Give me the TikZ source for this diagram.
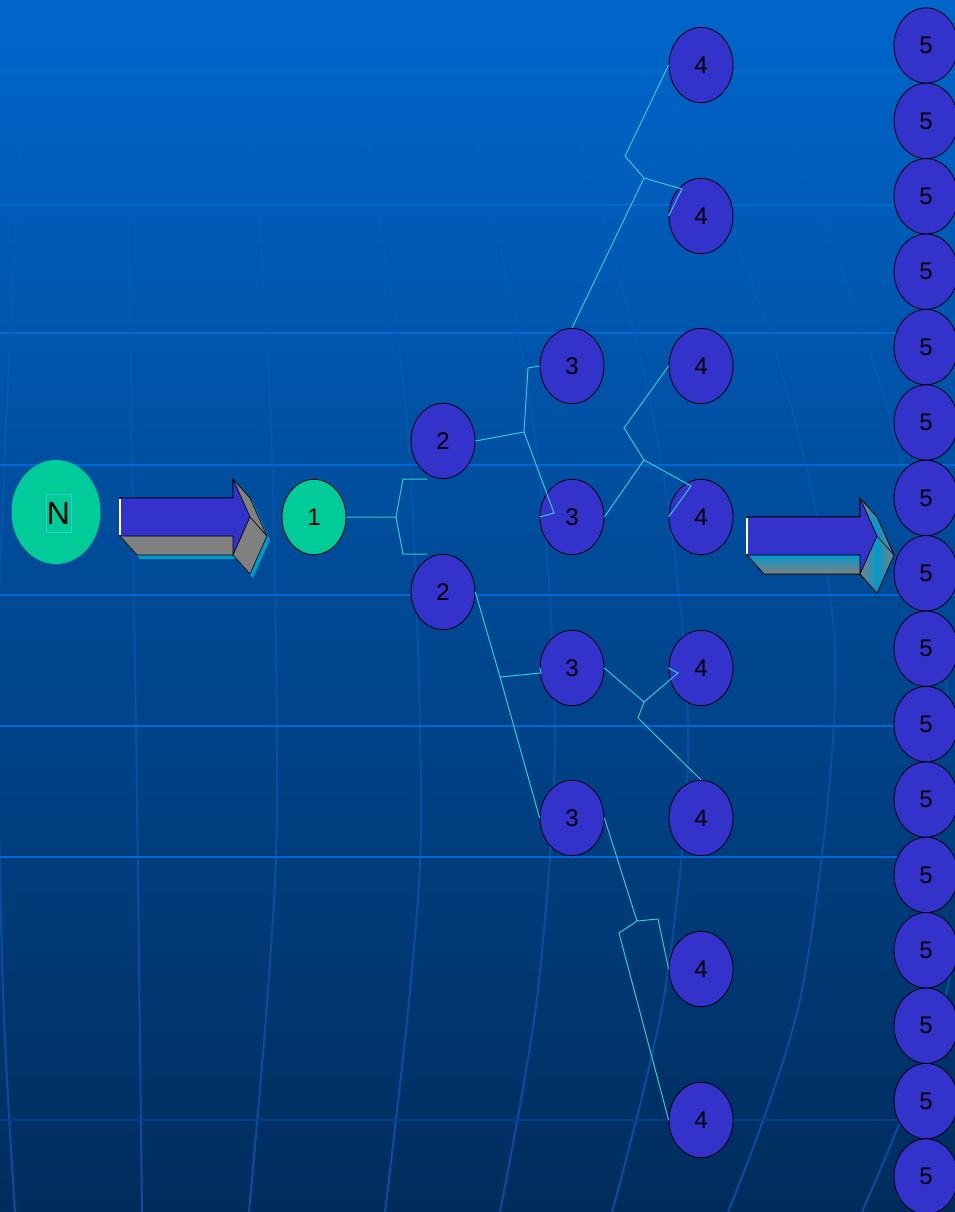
\documentclass[tikz,border=0pt]{standalone}
\usepackage{fontspec}
\setmainfont{Liberation Sans}
\usetikzlibrary{shapes.geometric,calc,fadings}
\definecolor{bgtop}{HTML}{0066CC}
\definecolor{bgmid}{HTML}{0053A2}
\definecolor{bgbot}{HTML}{002C5C}
\definecolor{gridcol}{HTML}{0068D6}
\definecolor{gridfaint}{HTML}{0569D2}
\definecolor{griddark}{HTML}{00428A}
\definecolor{vgridcol}{HTML}{1272E6}
\definecolor{nodeblue}{HTML}{3333CC}
\definecolor{nodegreen}{HTML}{00CC99}
\definecolor{conncol}{HTML}{33CCCC}
\definecolor{arrgray}{HTML}{808080}
\definecolor{arrcyan}{HTML}{0099CC}
\tikzset{
  bnode/.style={ellipse, draw=black, line width=0.6pt, fill=nodeblue,
    minimum width=48pt, minimum height=56.5pt, inner sep=0pt,
    font=\fontsize{18}{21}\selectfont},
  gnode/.style={bnode, fill=nodegreen},
  conn/.style={draw=conncol, line width=0.75pt, line join=miter},
  hgrid/.style={draw=gridcol, line width=1.5pt},
  vgrid/.style={draw=vgridcol, line width=1.5pt, opacity=0.5, path fading=north},
  arrface/.style={draw=black, line width=0.5pt, line join=miter},
}
\newcommand{\arrowsilhouette}{(0,0)--(113,0)--(113,-19)--(130,0)--(147,38)--(130,76)--(113,57)--(17,57)--(0,38)--cycle}
\newcommand{\arrowfront}{(0,0)--(113,0)--(113,-19)--(130,19)--(113,57)--(113,38)--(0,38)--cycle}
\begin{document}
\begin{tikzpicture}[x=0.75pt,y=-0.75pt]
\useasboundingbox (0,0) rectangle (955,1212);
% background
\shade[top color=bgtop, middle color=bgmid, bottom color=bgbot] (0,0) rectangle (955,1212);
% vertical curved grid lines
\draw[vgrid] plot[smooth] coordinates {(28,0) (12,300) (-2,650) (3,990) (15,1212)};
\draw[vgrid] plot[smooth] coordinates {(127,0) (131,400) (137,800) (142,1212)};
\draw[vgrid] plot[smooth] coordinates {(242,0) (270,400) (277,800) (268,990) (249,1212)};
\draw[vgrid] plot[smooth] coordinates {(343,0) (405,400) (421,800) (410,990) (385,1212)};
\draw[vgrid] plot[smooth] coordinates {(445,0) (530,400) (555,720) (538,990) (500,1212)};
\draw[vgrid] plot[smooth] coordinates {(540,0) (650,400) (688,720) (665,990) (612,1212)};
\draw[vgrid] plot[smooth] coordinates {(640,0) (775,350) (835,650) (802,990) (728,1212)};
\draw[vgrid] plot[smooth] coordinates {(740,0) (885,400) (960,780) (947,990) (862,1212)};
% horizontal grid lines
\foreach \yy in {72,205}
  \draw[hgrid, draw=gridfaint] (0,\yy) -- (955,\yy);
\foreach \yy in {333,465,595,726,857}
  \draw[hgrid] (0,\yy) -- (955,\yy);
\draw[hgrid, draw=griddark] (0,1120) -- (955,1120);
% N node
\node[ellipse, fill=nodegreen, minimum width=66.75pt, minimum height=78pt, inner sep=0pt] (n0) at (56,512) {};
\node[draw=conncol, line width=0.6pt, minimum width=18.75pt, minimum height=28.5pt, inner sep=0pt,
      font=\fontsize{24}{28}\selectfont] (nN) at (58.5,513) {N};
% first 3D arrow
\begin{scope}[shift={(120,498)}]
  \fill[arrcyan, shift={(3,4)}] \arrowsilhouette;
  \filldraw[fill=arrgray, arrface] \arrowsilhouette;
  \draw[arrface] (130,19) -- (147,38);
  \filldraw[fill=nodeblue, arrface] \arrowfront;
  \draw[white, line width=1.2pt] (0,1) -- (0,37);
\end{scope}
% nodes
\node[gnode] (n1) at (314,517) {1};
\node[bnode] (n2a) at (443,441) {2};
\node[bnode] (n2b) at (443,592) {2};
\node[bnode] (n3a) at (572,366) {3};
\node[bnode] (n3b) at (572,517) {3};
\node[bnode] (n3c) at (572,668) {3};
\node[bnode] (n3d) at (572,818) {3};
\node[bnode] (n4a) at (701,65) {4};
\node[bnode] (n4b) at (701,216) {4};
\node[bnode] (n4c) at (701,366) {4};
\node[bnode] (n4d) at (701,517) {4};
\node[bnode] (n4e) at (701,668) {4};
\node[bnode] (n4f) at (701,818) {4};
\node[bnode] (n4g) at (701,969) {4};
\node[bnode] (n4h) at (701,1120) {4};
\foreach \i in {0,...,15}
  \node[bnode] (n5-\i) at (926,45.5+75.4*\i) {5};
% second 3D arrow
\begin{scope}[shift={(747,517)}]
  \filldraw[fill=arrgray, arrface] \arrowsilhouette;
  \shade[top color=arrcyan, bottom color=arrgray] (0,38) -- (113,38) -- (130,57) -- (17,57) -- cycle;
  \shade[left color=arrgray, right color=arrgray, middle color=arrcyan] (130,19) -- (113,57) -- (130,76) -- (147,38) -- cycle;
  \shade[left color=arrgray, right color=arrgray, middle color=arrcyan] (113,-19) -- (130,19) -- (147,38) -- (130,0) -- cycle;
  \draw[arrface] \arrowsilhouette;
  \draw[arrface] (130,19) -- (147,38);
  \filldraw[fill=nodeblue, arrface] \arrowfront;
  \draw[white, line width=1.5pt] (0,1) -- (0,37);
\end{scope}
% connectors
\coordinate (j1) at (396,517);
\coordinate (b1a) at (403,479);
\coordinate (e1a) at (427,479);
\coordinate (b1b) at (403,554);
\coordinate (e1b) at (427,554);
\draw[conn] (n1.east) -- (j1) -- (b1a) -- (e1a);
\draw[conn] (j1) -- (b1b) -- (e1b);
\coordinate (j2) at (524,432);
\coordinate (b2a) at (528,368);
\coordinate (b2b) at (554,513);
\draw[conn] (n2a.east) -- (j2) -- (b2a) -- (n3a.west);
\draw[conn] (j2) -- (b2b) -- (n3b.west);
\coordinate (j3) at (500,677);
\coordinate (b3a) at (541,673);
\draw[conn] (n2b.east) -- (j3) -- (b3a) -- (n3c.west);
\draw[conn] (j3) -- (n3d.west);
\coordinate (j4) at (644,178);
\coordinate (b4a) at (625,156);
\coordinate (b4b) at (682,189);
\draw[conn] (n3a.north) -- (j4) -- (b4a) -- (n4a.west);
\draw[conn] (j4) -- (b4b) -- (n4b.west);
\coordinate (j5) at (644,460);
\coordinate (b5a) at (624,428);
\coordinate (b5b) at (691,486);
\draw[conn] (n3b.east) -- (j5) -- (b5a) -- (n4c.west);
\draw[conn] (j5) -- (b5b) -- (n4d.west);
\coordinate (j6) at (644,702);
\coordinate (b6a) at (678,673);
\coordinate (b6b) at (638,718);
\draw[conn] (n3c.east) -- (j6) -- (b6a) -- (n4e.west);
\draw[conn] (j6) -- (b6b) -- (n4f.north);
\coordinate (j7) at (637,921);
\coordinate (b7a) at (658,919);
\coordinate (b7b) at (619,933);
\draw[conn] (n3d.east) -- (j7) -- (b7a) -- (n4g.west);
\draw[conn] (j7) -- (b7b) -- (n4h.west);
\end{tikzpicture}
\end{document}
